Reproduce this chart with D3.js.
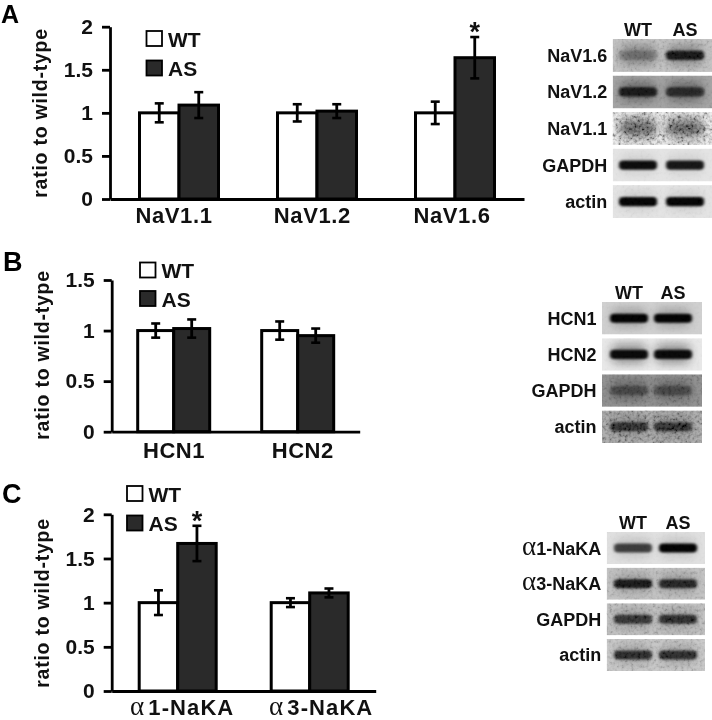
<!DOCTYPE html>
<html>
<head>
<meta charset="utf-8">
<title>Ratio to wild-type</title>
<script src="https://d3js.org/d3.v7.min.js"></script>
<style>
body{margin:0;background:#fff;}
svg{display:block;filter:blur(0.35px);}
text{font-family:'Liberation Sans',Arial,sans-serif;font-weight:bold;fill:#111;}
</style>
</head>
<body>
<svg id="fig" width="712" height="720"></svg>
<script>
// panel A
var namesA = ["NaV1.1", "NaV1.2", "NaV1.6"];
var wtA = [1, 1, 1];
var asA = [1.09, 1.02, 1.64];
var wtErrA = [0.11, 0.10, 0.13];
var asErrA = [0.15, 0.08, 0.24];
var ticksA = [0, 0.5, 1, 1.5, 2];
var starsA = [2];

// panel B
var namesB = ["HCN1", "HCN2"];
var wtB = [1, 1];
var asB = [1.02, 0.95];
var wtErrB = [0.07, 0.09];
var asErrB = [0.09, 0.07];
var ticksB = [0, 0.5, 1, 1.5];
var starsB = [];

// panel C
var namesC = ["1-NaKA", "3-NaKA"];
var wtC = [1, 1];
var asC = [1.67, 1.11];
var wtErrC = [0.14, 0.05];
var asErrC = [0.20, 0.05];
var ticksC = [0, 0.5, 1, 1.5, 2];
var starsC = [0];

// blots: gray level of the strip, band darkness per lane, halo and grain per row
var rowsA = ["NaV1.6", "NaV1.2", "NaV1.1", "GAPDH", "actin"];
var bgA = [190, 160, 225, 228, 228];
var bandWtA = [0.25, 0.85, 0.25, 0.95, 1];
var bandAsA = [0.95, 0.70, 0.25, 0.90, 1];
var haloA = [0.35, 0.40, 0.75, 0.08, 0.10];
var grainA = [0.10, 0.06, 0.38, 0.02, 0.03];

var rowsB = ["HCN1", "HCN2", "GAPDH", "actin"];
var bgB = [208, 232, 135, 150];
var bandWtB = [1, 0.95, 0.40, 1];
var bandAsB = [1, 0.95, 0.40, 1];
var haloB = [0.22, 0.40, 0.35, 0.30];
var grainB = [0.02, 0.02, 0.10, 0.25];

var rowsC = ["1-NaKA", "3-NaKA", "GAPDH", "actin"];
var bgC = [224, 190, 185, 195];
var bandWtC = [0.70, 0.95, 0.80, 0.85];
var bandAsC = [1, 0.85, 0.85, 0.85];
var haloC = [0.12, 0.22, 0.22, 0.22];
var grainC = [0.02, 0.10, 0.15, 0.13];

var svg = d3.select("#fig");
var defs = svg.append("defs");

function blur(id, s) {
  defs.append("filter").attr("id", id)
    .attr("x", "-30%").attr("y", "-80%").attr("width", "160%").attr("height", "260%")
    .append("feGaussianBlur").attr("stdDeviation", s);
}
blur("soft", "1.8 1.3");
blur("wide", "5 4");

var grain = defs.append("filter").attr("id", "grain")
  .attr("x", 0).attr("y", 0).attr("width", "100%").attr("height", "100%");
grain.append("feTurbulence").attr("type", "fractalNoise")
  .attr("baseFrequency", 0.32).attr("numOctaves", 2).attr("seed", 4);
grain.append("feColorMatrix").attr("values",
  "2.4 0 0 0 -0.6  2.4 0 0 0 -0.6  2.4 0 0 0 -0.6  0 0 0 0 1");

function addLetter(s, x, y, size) {
  svg.append("text").attr("x", x).attr("y", y)
    .style("font-size", size + "px").style("fill", "#000").text(s);
}

function barChart(p) {
  var g = svg.append("g");
  var x = d3.scaleBand().domain(p.names).range([p.left, p.right]);
  var y = d3.scaleLinear().domain([0, p.ymax]).range([p.bottom, p.top]);
  var half = p.barWidth;

  var yAxis = d3.axisLeft(y).tickValues(p.ticks).tickSize(8).tickSizeOuter(0)
    .tickFormat(d3.format("~g")).tickPadding(9);
  var xAxis = d3.axisBottom(x).tickSize(0);

  var series = [
    {vals: p.wt, errs: p.wtErr, off: -half, fill: "#fff"},
    {vals: p.as, errs: p.asErr, off: 0, fill: "#2a2a2a"}
  ];

  series.forEach(function(s) {
    g.selectAll(null).data(p.names).enter().append("rect")
      .attr("x", function(d) { return x(d) + x.bandwidth() / 2 + s.off; })
      .attr("y", function(d, i) { return y(s.vals[i]); })
      .attr("width", half)
      .attr("height", function(d, i) { return y(0) - y(s.vals[i]); })
      .attr("fill", s.fill).attr("stroke", "#000").attr("stroke-width", 3);
  });

  series.forEach(function(s) {
    var cx = function(d) { return x(d) + x.bandwidth() / 2 + s.off + half / 2; };
    g.selectAll(null).data(p.names).enter().append("line")
      .attr("x1", cx).attr("x2", cx)
      .attr("y1", function(d, i) { return y(s.vals[i] + s.errs[i]); })
      .attr("y2", function(d, i) { return y(s.vals[i] - s.errs[i]); })
      .attr("stroke", "#000").attr("stroke-width", 2.8);
    [1, -1].forEach(function(sign) {
      g.selectAll(null).data(p.names).enter().append("line")
        .attr("x1", function(d) { return cx(d) - 4.5; })
        .attr("x2", function(d) { return cx(d) + 4.5; })
        .attr("y1", function(d, i) { return y(s.vals[i] + sign * s.errs[i]); })
        .attr("y2", function(d, i) { return y(s.vals[i] + sign * s.errs[i]); })
        .attr("stroke", "#000").attr("stroke-width", 2.6);
    });
  });

  var gy = g.append("g").attr("transform", "translate(" + p.left + ",0)").call(yAxis);
  var gx = g.append("g").attr("transform", "translate(0," + p.bottom + ")").call(xAxis);
  gy.selectAll("path,line").attr("stroke", "#000").attr("stroke-width", 2.8);
  gx.selectAll("path").attr("stroke", "#000").attr("stroke-width", 2.8);
  gy.selectAll("text").style("font-size", "21px");
  gx.selectAll("text").style("font-size", "22px").style("letter-spacing", p.spacing + "px")
    .attr("y", p.labelY).attr("dy", 0)
    .attr("dx", function(d, i) { return p.labelDx[i]; });

  if (p.alpha) {
    gx.selectAll("text").each(function(d) {
      var t = d3.select(this);
      t.text(null);
      t.append("tspan").style("font-family", "'Liberation Serif'").style("font-weight", "normal")
        .style("font-size", "27px").text("\u03b1");
      t.append("tspan").attr("dx", 3).text(d);
    });
  }

  // y title
  g.append("text")
    .attr("transform", "translate(" + (p.left - 63) + "," + p.titleMid + ") rotate(-90)")
    .attr("text-anchor", "middle")
    .style("font-size", "19.5px").style("letter-spacing", "0.75px")
    .text("ratio to wild-type");

  // significance stars
  p.stars.forEach(function(i) {
    g.append("text")
      .attr("x", x(p.names[i]) + x.bandwidth() / 2 + half / 2)
      .attr("y", y(p.as[i] + p.asErr[i]) + 4)
      .attr("text-anchor", "middle")
      .style("font-size", "27px").text("*");
  });

  // legend
  var lg = g.append("g");
  [["WT", "#fff", p.legY[0]], ["AS", "#2a2a2a", p.legY[1]]].forEach(function(k) {
    lg.append("rect").attr("x", p.legX).attr("y", k[2]).attr("width", 15.5).attr("height", 15)
      .attr("fill", k[1]).attr("stroke", "#000").attr("stroke-width", 1.8);
    lg.append("text").attr("x", p.legX + 21.5).attr("y", k[2] + 15.5)
      .style("font-size", "21px").text(k[0]);
  });
}

function blot(b) {
  var g = svg.append("g");
  var rowY = d3.scaleBand().domain(b.rows).range([b.top, b.bottom]).paddingInner(0.1);
  var lane = d3.scalePoint().domain(["WT", "AS"]).range(b.lanes);

  g.selectAll(null).data(lane.domain()).enter().append("text")
    .attr("x", function(d) { return lane(d); })
    .attr("y", b.top - 3)
    .attr("text-anchor", "middle").style("font-size", "18px").text(function(d) { return d; });

  b.rows.forEach(function(r, i) {
    var id = b.id + "-clip-" + i, y0 = rowY(r), h = rowY.bandwidth(), w = b.x1 - b.x0;
    defs.append("clipPath").attr("id", id).append("rect")
      .attr("x", b.x0).attr("y", y0).attr("width", w).attr("height", h);
    var row = g.append("g").attr("clip-path", "url(#" + id + ")");
    var v = b.bg[i];
    row.append("rect").attr("x", b.x0).attr("y", y0).attr("width", w).attr("height", h)
      .attr("fill", d3.rgb(v, v, v));
    [b.wt[i], b.as[i]].forEach(function(dark, j) {
      var cx = lane(lane.domain()[j]);
      row.append("rect").attr("x", cx - 17).attr("y", y0 + h * 0.18)
        .attr("width", 34).attr("height", h * 0.6).attr("rx", 5)
        .attr("fill", "#111").attr("opacity", b.halo[i]).attr("filter", "url(#wide)");
      row.append("rect").attr("x", cx - 19).attr("y", y0 + h * 0.36)
        .attr("width", 38).attr("height", h * 0.28).attr("rx", 4)
        .attr("fill", "#000").attr("opacity", dark).attr("filter", "url(#soft)");
    });
    row.append("rect").attr("x", b.x0).attr("y", y0).attr("width", w).attr("height", h)
      .attr("filter", "url(#grain)").attr("opacity", b.grain[i]);
    var lab = g.append("text").attr("x", b.x0 - 5.5).attr("y", y0 + h / 2 + 6.5)
      .attr("text-anchor", "end").style("font-size", "18px");
    if (b.alpha && i < 2) {
      lab.append("tspan").style("font-family", "'Liberation Serif'").style("font-weight", "normal")
        .style("font-size", "27px").text("\u03b1");
    }
    lab.append("tspan").text(r);
  });
}

addLetter("A", 1, 23, 25);
addLetter("B", 3, 271, 27);
addLetter("C", 2, 503, 27);

barChart({names: namesA, wt: wtA, as: asA, wtErr: wtErrA, asErr: asErrA, ticks: ticksA, stars: starsA,
  ymax: 2, left: 110, right: 524, bottom: 199, top: 26.7, barWidth: 39.5, titleMid: 113,
  spacing: 0.6, labelY: 23.5, labelDx: [-5, -4.7, -3],
  legX: 146.5, legY: [31, 60.5]});
barChart({names: namesB, wt: wtB, as: asB, wtErr: wtErrB, asErr: asErrB, ticks: ticksB, stars: starsB,
  ymax: 1.5, left: 111.7, right: 359.7, bottom: 431.7, top: 280, barWidth: 36, titleMid: 355,
  spacing: 0.5, labelY: 26.5, labelDx: [0.3, 5],
  legX: 140, legY: [262.5, 291]});
barChart({names: namesC, wt: wtC, as: asC, wtErr: wtErrC, asErr: asErrC, ticks: ticksC, stars: starsC,
  ymax: 2, left: 111.7, right: 375.7, bottom: 691, top: 514.3, barWidth: 38.5, titleMid: 603, alpha: true,
  spacing: 1.1, labelY: 23.5, labelDx: [4.5, 11.5],
  legX: 127, legY: [486, 515.5]});

blot({id: "a", rows: rowsA, bg: bgA, wt: bandWtA, as: bandAsA, halo: haloA, grain: grainA,
  x0: 612.7, x1: 712, top: 39, bottom: 218, lanes: [638, 685]});
blot({id: "b", rows: rowsB, bg: bgB, wt: bandWtB, as: bandAsB, halo: haloB, grain: grainB,
  x0: 602, x1: 702, top: 302, bottom: 443, lanes: [629, 673]});
blot({id: "c", rows: rowsC, bg: bgC, wt: bandWtC, as: bandAsC, halo: haloC, grain: grainC,
  x0: 606.7, x1: 705, top: 532, bottom: 671, lanes: [633, 678], alpha: true});
</script>
</body>
</html>
